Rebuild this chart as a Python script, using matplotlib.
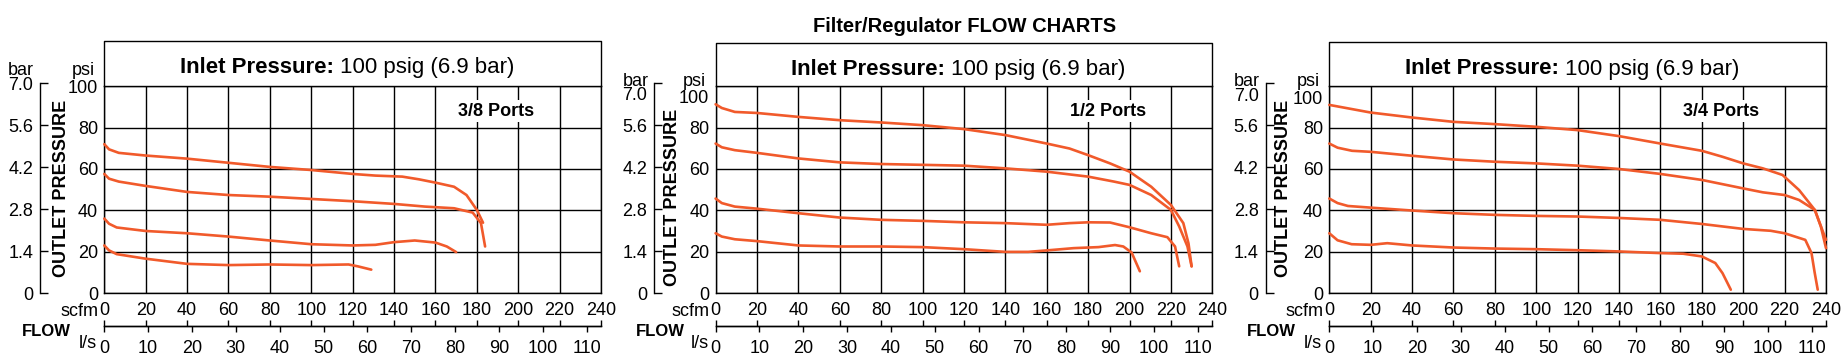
import matplotlib
matplotlib.use('Agg')
import matplotlib.pyplot as plt

plt.rcParams['font.family'] = ['Liberation Sans', 'DejaVu Sans']

# ---- data: flow (scfm) vs outlet pressure (psi)
port_names = ['3/8 Ports', '1/2 Ports', '3/4 Ports']
scfm_ticks = list(range(0, 241, 20))
ls_ticks = list(range(0, 111, 10))
psi_ticks = [0, 20, 40, 60, 80, 100]
bar_ticks = [0, 1.4, 2.8, 4.2, 5.6, 7.0]
bar_labels = ['0', '1.4', '2.8', '4.2', '5.6', '7.0']

# 3/8 ports
q38_a = [0, 2.3, 7, 20, 40, 60, 80, 100, 120, 131, 144, 152, 160, 169, 175, 180, 183]
p38_a = [72, 69.5, 67.8, 66.5, 65, 63, 61, 59.5, 57.6, 56.8, 56.3, 55, 53.4, 51.4, 47.4, 40.2, 34]
q38_b = [0, 2.3, 7, 20, 40, 60, 80, 100, 120, 140, 155, 169, 178, 182, 184]
p38_b = [57.6, 55.3, 53.9, 51.8, 48.9, 47.4, 46.6, 45.5, 44.4, 43.1, 41.8, 41, 38.9, 33.8, 22.5]
q38_c = [0, 2.3, 6, 20, 40, 60, 80, 100, 120, 131, 140, 150, 160, 165.5, 170]
p38_c = [36, 33.5, 31.7, 30, 28.9, 27.3, 25.4, 23.6, 23, 23.3, 24.6, 25.4, 24.4, 22.5, 19.8]
q38_d = [0, 2.3, 6, 20, 40, 60, 80, 100, 118, 122.5, 129]
p38_d = [23, 20.6, 18.8, 16.6, 14.1, 13.5, 13.8, 13.5, 13.8, 12.9, 11.3]

# 1/2 ports
q12_a = [0, 3, 9.3, 20, 40, 60, 80, 100, 120, 140, 160, 171, 180, 190.6, 200, 210.5, 220, 226, 228.5, 230]
p12_a = [91.3, 89.5, 87.6, 87.1, 85.2, 83.6, 82.5, 81.2, 79.3, 76.4, 72.3, 69.9, 66.7, 62.7, 58.7, 51.4, 42.6, 33.8, 24, 12.9]
q12_b = [0, 3, 9.3, 20, 40, 60, 80, 100, 120, 140, 160, 180, 192.5, 200, 210.5, 220, 224, 228, 230]
p12_b = [72.3, 70.5, 69.1, 67.8, 65.1, 63.2, 62.4, 62, 61.6, 60.3, 58.7, 56.3, 53.9, 52.3, 47.4, 40.2, 32.2, 22.5, 12.9]
q12_c = [0, 3, 9.3, 20, 40, 60, 80, 100, 120, 140, 160, 171, 180, 190.6, 200, 210.5, 218.3, 222, 224]
p12_c = [45.7, 43.5, 41.8, 40.8, 38.6, 36.5, 35.4, 34.9, 34.2, 33.8, 33, 33.8, 34.2, 34.1, 31.8, 28.9, 27, 22.5, 12.9]
q12_d = [0, 3, 9.3, 20, 40, 60, 80, 100, 120, 140, 151, 160, 173, 185, 193, 197, 201, 205]
p12_d = [28.9, 27.3, 26, 25.1, 23, 22.5, 22.5, 22.2, 21.2, 19.9, 19.9, 20.6, 21.7, 22.2, 23.2, 22.5, 19.6, 10.5]

# 3/4 ports
q34_a = [0, 20, 40, 60, 80, 100, 120, 140, 160, 180, 190, 200, 209.5, 219, 227, 234.6, 240]
p34_a = [91, 87.3, 84.9, 82.8, 81.7, 80.4, 78.8, 75.9, 72.3, 68.8, 65.9, 62.7, 60.3, 57.1, 49.8, 40.2, 25.7]
q34_b = [0, 4, 11, 20, 40, 60, 80, 100, 120, 140, 160, 180, 200, 209.5, 220, 227, 234.6, 237.5, 240]
p34_b = [72.3, 70.3, 68.8, 68.3, 66.4, 64.6, 63.5, 62.7, 61.6, 60, 57.6, 54.7, 50.6, 48.7, 47.4, 45, 40.2, 32.2, 21.7]
q34_c = [0, 4, 9, 20, 40, 60, 80, 100, 120, 140, 160, 180, 200, 213.3, 220, 230, 233, 234.5, 236]
p34_c = [45.7, 43.5, 42.1, 41.3, 39.9, 38.6, 37.8, 37.3, 37, 36.3, 35.4, 33.4, 31, 30.1, 28.9, 25.7, 19.3, 10, 1.6]
q34_d = [0, 4, 10.8, 20, 28, 40, 60, 80, 100, 120, 140, 160, 171, 180, 186.5, 190, 194]
p34_d = [28.9, 25.5, 23.6, 23.3, 24.1, 23, 22, 21.5, 21.2, 20.7, 20.1, 19.3, 19, 17.7, 14.5, 9.6, 1.6]

panel_curves = [
    [(q38_a, p38_a), (q38_b, p38_b), (q38_c, p38_c), (q38_d, p38_d)],
    [(q12_a, p12_a), (q12_b, p12_b), (q12_c, p12_c), (q12_d, p12_d)],
    [(q34_a, p34_a), (q34_b, p34_b), (q34_c, p34_c), (q34_d, p34_d)],
]

PSI_PER_BAR = 14.5038
SCFM_PER_LS = 2.11888
ORANGE = '#F15A2B'
LW = 1.0
FS = 13

# ---- layout in pixels (figure is 1845 x 364)
W, H = 1845, 364
lefts = [104.3, 715.6, 1329.3]
bar_x = [40, 654.3, 1265.7]
box_tops = [41.3, 43.3, 42.3]
top_shift = [0, 10, 11]
head_y = [75, 86, 86]
title_base = [73.3, 75, 74.5]
outlet_dx = [21, 18.5, 18]
outlet_y = [188, 197, 188]
PW = 496.7
GT, GB = 86.3, 293.0
GH = GB - GT
FLOW_Y = 326.3


def rect(x, y_top, w, h):
    return [x / W, 1 - (y_top + h) / H, w / W, h / H]


def fx(x):
    return x / W


def fy(y):
    return 1 - y / H


fig = plt.figure(figsize=(W / 100, H / 100), dpi=100)

fig.text(fx(965), fy(32.5), 'Filter/Regulator FLOW CHARTS', ha='center',
         va='baseline', fontsize=14.5, fontweight='bold')

for i in range(3):
    L = lefts[i]
    ax = fig.add_axes(rect(L, GT, PW, GH))
    ax.set_xlim(0, 240)
    ax.set_ylim(0, 100)
    ax.set_xticks(scfm_ticks)
    ylabs = [str(v) for v in psi_ticks]
    if top_shift[i]:
        ylabs[-1] = ''
    ax.set_yticks(psi_ticks, ylabs)
    ax.grid(True, color='black', lw=LW)
    ax.tick_params(length=0, labelsize=FS)
    ax.tick_params(axis='x', pad=6.8)
    ax.tick_params(axis='y', pad=4.5)
    for s in ax.spines.values():
        s.set_linewidth(LW)

    # box holding the inlet pressure title
    h = (GT - box_tops[i]) / GH
    ax.plot([0, 0, 1, 1], [1, 1 + h, 1 + h, 1], transform=ax.transAxes,
            color='black', lw=LW, clip_on=False)

    for q, p in panel_curves[i]:
        ax.plot(q, p, color=ORANGE, lw=1.9, solid_joinstyle='round',
                solid_capstyle='round', clip_on=False, zorder=4)

    ax.text(189.5, 88, port_names[i], ha='center', va='center', fontsize=FS,
            fontweight='bold', zorder=5,
            bbox=dict(facecolor='white', edgecolor='none', pad=1.5))

    C = L + PW / 2
    fig.text(fx(C - 19), fy(title_base[i]), 'Inlet Pressure:', ha='right',
             va='baseline', fontsize=16, fontweight='bold')
    fig.text(fx(C - 13), fy(title_base[i]), '100 psig (6.9 bar)', ha='left',
             va='baseline', fontsize=16)

    if top_shift[i]:
        fig.text(fx(L - 6.3), fy(GT + top_shift[i]), '100', ha='right',
                 va='center_baseline', fontsize=FS)

    # bar scale
    bh = GH * 7.0 * PSI_PER_BAR / 100
    axb = fig.add_axes(rect(bar_x[i], GB - bh, 1, bh))
    axb.set_ylim(0, 7.0)
    axb.patch.set_visible(False)
    for k in ['right', 'top', 'bottom']:
        axb.spines[k].set_visible(False)
    axb.spines['left'].set_linewidth(LW)
    axb.set_xticks([])
    blabs = list(bar_labels)
    if top_shift[i]:
        blabs[-1] = ''
    axb.set_yticks(bar_ticks, blabs)
    axb.tick_params(axis='y', direction='in', length=5.8, width=LW, pad=5,
                    labelsize=FS)
    if top_shift[i]:
        fig.text(fx(bar_x[i] - 7), fy(GB - bh + top_shift[i]), '7.0',
                 ha='right', va='center_baseline', fontsize=FS)

    fig.text(fx(bar_x[i] - 19), fy(head_y[i]), 'bar', ha='center',
             va='baseline', fontsize=FS)
    fig.text(fx(L - 21), fy(head_y[i]), 'psi', ha='center',
             va='baseline', fontsize=FS)
    fig.text(fx(bar_x[i] + outlet_dx[i]), fy(outlet_y[i]), 'OUTLET PRESSURE',
             rotation=90, ha='center', va='center', fontsize=FS,
             fontweight='bold')

    # flow scale: scfm above the line, l/s below
    axf = fig.add_axes(rect(L, FLOW_Y - 0.5, PW, 0.5))
    axf.set_xlim(0, 240)
    axf.patch.set_visible(False)
    for k in ['left', 'right', 'top']:
        axf.spines[k].set_visible(False)
    axf.spines['bottom'].set_linewidth(LW)
    axf.set_yticks([])
    axf.set_xticks(scfm_ticks)
    axf.tick_params(axis='x', top=True, bottom=False, labeltop=False,
                    labelbottom=False, direction='out', length=4.3, width=LW)
    ls = axf.secondary_xaxis('bottom', functions=(lambda q: q / SCFM_PER_LS,
                                                   lambda l: l * SCFM_PER_LS))
    ls.set_xticks(ls_ticks)
    ls.tick_params(direction='out', length=4, width=LW, pad=5.8, labelsize=FS)
    ls.spines['bottom'].set_linewidth(LW)

    fig.text(fx(L - 6), fy(315.5), 'scfm', ha='right', va='baseline', fontsize=FS)
    fig.text(fx(bar_x[i] + 6), fy(335.7), 'FLOW', ha='center', va='baseline',
             fontsize=12, fontweight='bold')
    fig.text(fx(L - 7), fy(348), 'l/s', ha='right', va='baseline', fontsize=FS)

fig.savefig('out.png', dpi=100)
